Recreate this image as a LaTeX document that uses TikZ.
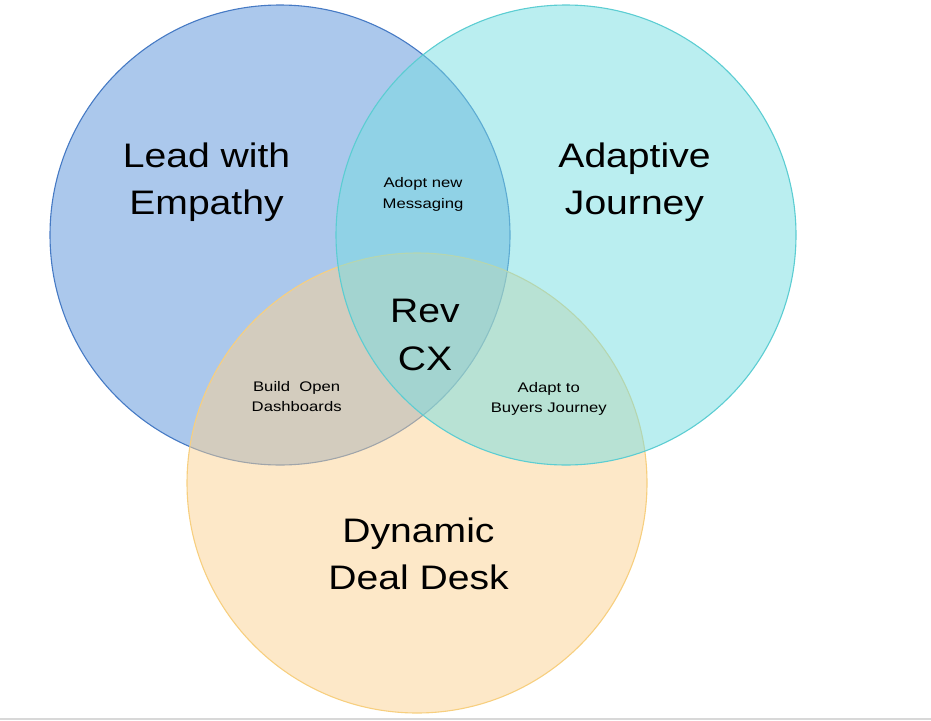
\documentclass[tikz,border=0pt]{standalone}
\usepackage{fontspec}
\setmainfont{Liberation Sans}
\newfontfamily\bigf[FakeStretch=1.15]{Liberation Sans}
\newfontfamily\smallf[FakeStretch=1.2]{Liberation Sans}
\newcommand{\twoline}[2]{\vtop{\halign{\hfil##\hfil\cr#1\cr#2\cr}}}
\definecolor{bluebase}{RGB}{87,145,217}
\definecolor{bluestroke}{RGB}{70,122,196}
\definecolor{cyanbase}{RGB}{117,221,225}
\definecolor{cyanstroke}{RGB}{92,205,210}
\definecolor{orangebase}{RGB}{251,209,145}
\definecolor{orangestroke}{RGB}{247,207,127}
\definecolor{bottomgray}{RGB}{216,216,216}
\tikzset{
  venn/.style={circle, minimum size=460pt, inner sep=0pt, fill opacity=0.5, line width=1.1pt},
  bigtxt/.style={font=\bigf\fontsize{34}{47.5}\selectfont, inner sep=0pt, anchor=base, text=black},
  smalltxt/.style={font=\smallf\fontsize{13.9}{20.5}\selectfont, inner sep=0pt, anchor=base, text=black}
}
\begin{document}
\begin{tikzpicture}[x=1pt,y=-1pt]
\useasboundingbox (0,0) rectangle (931,720);
\fill[bottomgray] (0,717.5) rectangle (931,720);
\node[venn, fill=bluebase, draw=bluestroke] (lead) at (280,235) {};
\node[venn, fill=orangebase, draw=orangestroke] (deal) at (417,483) {};
\node[venn, fill=cyanbase, draw=cyanstroke] (journey) at (566,235) {};
\node[bigtxt] (tlead) at (206.5,167) {\twoline{Lead with}{Empathy}};
\node[bigtxt] (tadaptive) at (634.5,167) {\twoline{Adaptive}{Journey}};
\node[bigtxt] (trev) at (425,322.7) {\twoline{Rev}{CX}};
\node[bigtxt] (tdeal) at (418.5,542.3) {\twoline{Dynamic}{Deal Desk}};
\node[smalltxt] (tadopt) at (423,187.7) {\twoline{Adopt new}{Messaging}};
\node[smalltxt] (tbuild) at (296.7,391) {\twoline{Build\ \ Open}{Dashboards}};
\node[smalltxt] (tbuyers) at (548.8,392) {\twoline{Adapt to}{Buyers Journey}};
\end{tikzpicture}
\end{document}
